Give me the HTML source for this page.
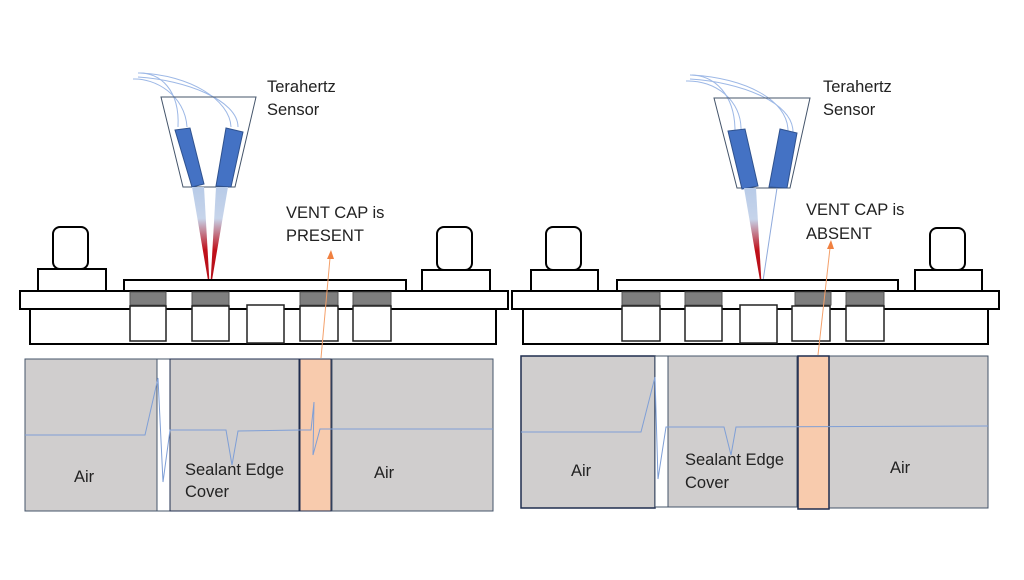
<!DOCTYPE html>
<html><head><meta charset="utf-8"><style>
html,body{margin:0;padding:0;background:#fff;}
svg{display:block;}
text{font-family:"Liberation Sans","DejaVu Sans",sans-serif;fill:#222;}
</style></head><body>
<svg width="1024" height="580" viewBox="0 0 1024 580" xmlns="http://www.w3.org/2000/svg">
<defs>
<linearGradient id="bm" x1="0" y1="0" x2="0" y2="1">
<stop offset="0" stop-color="#b8cbe8"/><stop offset="0.3" stop-color="#c6d4ea"/><stop offset="0.6" stop-color="#c0101a"/><stop offset="1" stop-color="#b0101a"/>
</linearGradient>
</defs>

<!-- ===== LEFT ===== -->
<g fill="none" stroke="#9db8e6" stroke-width="1">
<path d="M138,73 C160,72 180,90 178,127"/>
<path d="M133,79 C155,78 185,95 187,127"/>
<path d="M140,73 C190,75 230,100 231,127"/>
<path d="M138,77 C185,80 238,100 238,127"/>
</g>
<polygon points="161,97 256,97 235,187 183,187" fill="none" stroke="#44546a" stroke-width="1"/>
<polygon points="175,130 190,128 204,184 192,187" fill="#4472c4" stroke="#2f528f" stroke-width="1"/>
<polygon points="226,128 243,132 231,187 216,186" fill="#4472c4" stroke="#2f528f" stroke-width="1"/>
<polygon points="192,187 204,187 210,292" fill="url(#bm)"/>
<polygon points="216,187 228,187 210,292" fill="url(#bm)"/>
<text x="267" y="92" font-size="16.5">Terahertz</text>
<text x="267" y="115" font-size="16.5">Sensor</text>
<text x="286" y="218" font-size="16.5">VENT CAP is</text>
<text x="286" y="241" font-size="16.5">PRESENT</text>
<g fill="#fff" stroke="#000" stroke-width="2">
<rect x="30" y="309" width="466" height="35"/>
<rect x="20" y="291" width="488" height="18"/>
<rect x="124" y="280" width="282" height="11"/>
<rect x="38" y="269" width="68" height="22"/>
<rect x="53" y="227" width="35" height="42" rx="7"/>
<rect x="422" y="270" width="68" height="21"/>
<rect x="437" y="227" width="35" height="43" rx="7"/>
</g>
<g fill="#7f7f7f" stroke="#555" stroke-width="1">
<rect x="130" y="292" width="36" height="13"/><rect x="192" y="292" width="37" height="13"/>
<rect x="300" y="292" width="38" height="13"/><rect x="353" y="292" width="38" height="13"/>
</g>
<g fill="#fff" stroke="#222" stroke-width="1.5">
<rect x="130" y="306" width="36" height="35"/><rect x="192" y="306" width="37" height="35"/>
<rect x="247" y="305" width="37" height="38"/><rect x="300" y="306" width="38" height="35"/>
<rect x="353" y="306" width="38" height="35"/>
</g>
<line x1="321" y1="358" x2="330" y2="258" stroke="#f4a06a" stroke-width="1"/>
<polygon points="331,250 327,259 334,259" fill="#f08040"/>
<!-- bottom left -->
<rect x="25" y="359" width="132" height="152" fill="#d0cece" stroke="#44546a"/>
<rect x="157" y="359" width="13" height="152" fill="#fff" stroke="#44546a"/>
<rect x="170" y="359" width="129" height="152" fill="#d0cece" stroke="#1f2d4f"/>
<rect x="300" y="359" width="31" height="152" fill="#f8cbad" stroke="#1f2d4f"/>
<rect x="332" y="359" width="161" height="152" fill="#d0cece" stroke="#44546a"/>
<polyline points="25,435 145,435 158,378 163,482 170,430 226,430 232,465 238,431 300,430 311,430 314,402 313,455 320,429 493,429" fill="none" stroke="#7f9fd6" stroke-width="1"/>
<text x="74" y="482" font-size="16.5">Air</text>
<text x="185" y="475" font-size="16.5">Sealant Edge</text>
<text x="185" y="497" font-size="16.5">Cover</text>
<text x="374" y="478" font-size="16.5">Air</text>

<!-- ===== RIGHT ===== -->
<g fill="none" stroke="#9db8e6" stroke-width="1">
<path d="M690,75 C715,75 735,95 735,131"/>
<path d="M686,81 C715,80 742,100 741,131"/>
<path d="M692,75 C745,78 788,100 788,131"/>
<path d="M690,79 C740,82 793,102 793,132"/>
</g>
<polygon points="714,98 810,98 790,188 737,188" fill="none" stroke="#44546a" stroke-width="1"/>
<polygon points="728,131 745,129 758,186 742,189" fill="#4472c4" stroke="#2f528f" stroke-width="1"/>
<polygon points="780,129 797,133 787,188 769,187" fill="#4472c4" stroke="#2f528f" stroke-width="1"/>
<polygon points="744,188 756,188 762,292" fill="url(#bm)"/>
<line x1="777" y1="188" x2="763" y2="281" stroke="#8faadc" stroke-width="1"/>
<line x1="761" y1="288" x2="763" y2="305" stroke="#1f2d4f" stroke-width="1.5"/>
<text x="823" y="92" font-size="16.5">Terahertz</text>
<text x="823" y="115" font-size="16.5">Sensor</text>
<text x="806" y="215" font-size="16.5">VENT CAP is</text>
<text x="806" y="239" font-size="16.5">ABSENT</text>
<g fill="#fff" stroke="#000" stroke-width="2">
<rect x="523" y="309" width="465" height="35"/>
<rect x="512" y="291" width="487" height="18"/>
<rect x="617" y="280" width="281" height="11"/>
<rect x="531" y="270" width="67" height="21"/>
<rect x="546" y="227" width="35" height="43" rx="7"/>
<rect x="915" y="270" width="67" height="21"/>
<rect x="930" y="228" width="35" height="42" rx="7"/>
</g>
<g fill="#7f7f7f" stroke="#555" stroke-width="1">
<rect x="622" y="292" width="38" height="13"/><rect x="685" y="292" width="37" height="13"/>
<rect x="795" y="292" width="36" height="13"/><rect x="846" y="292" width="38" height="13"/>
</g>
<g fill="#fff" stroke="#222" stroke-width="1.5">
<rect x="622" y="306" width="38" height="35"/><rect x="685" y="306" width="37" height="35"/>
<rect x="740" y="305" width="37" height="38"/><rect x="792" y="306" width="38" height="35"/>
<rect x="846" y="306" width="38" height="35"/>
</g>
<line x1="818" y1="355" x2="830" y2="248" stroke="#f4a06a" stroke-width="1"/>
<polygon points="831,240 827,249 834,249" fill="#f08040"/>
<!-- bottom right -->
<rect x="521" y="356" width="134" height="152" fill="#d0cece" stroke="#1f2d4f" stroke-width="1.5"/>
<rect x="655" y="356" width="13" height="151" fill="#fff" stroke="#44546a"/>
<rect x="668" y="356" width="129" height="151" fill="#d0cece" stroke="#44546a"/>
<rect x="829" y="356" width="159" height="152" fill="#d0cece" stroke="#44546a"/>
<rect x="798" y="356" width="31" height="153" fill="#f8cbad" stroke="#1f2d4f" stroke-width="1.5"/>
<polyline points="521,432 641,432 655,377 658,479 666,427 724,427 731,455 736,427 988,426" fill="none" stroke="#7f9fd6" stroke-width="1"/>
<text x="571" y="476" font-size="16.5">Air</text>
<text x="685" y="465" font-size="16.5">Sealant Edge</text>
<text x="685" y="488" font-size="16.5">Cover</text>
<text x="890" y="473" font-size="16.5">Air</text>
</svg>
</body></html>
